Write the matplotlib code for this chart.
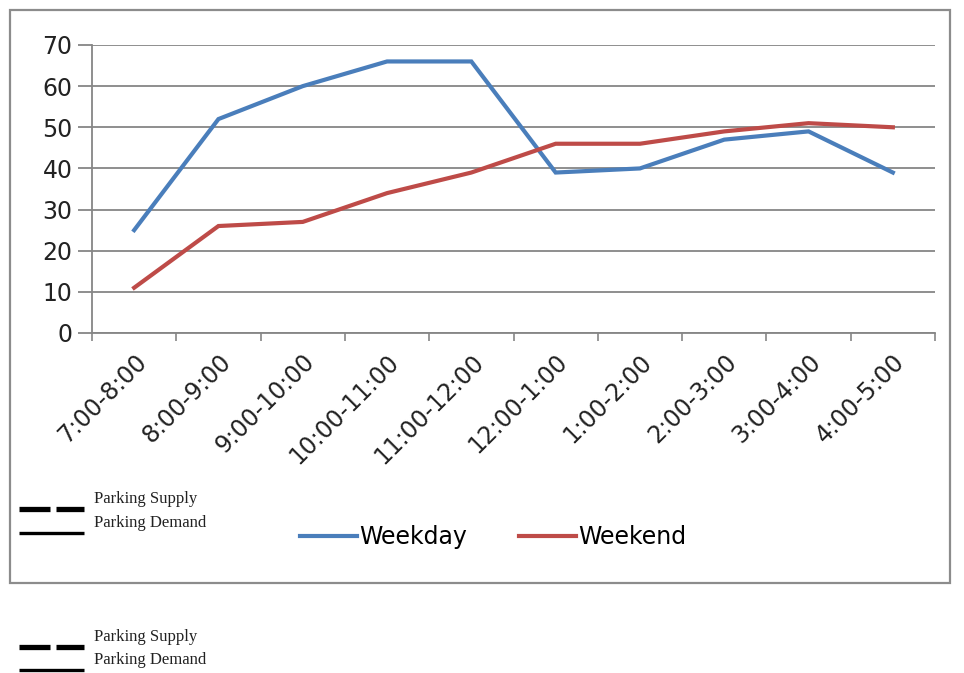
import matplotlib
matplotlib.use("Agg")
import matplotlib.pyplot as plt
from matplotlib.lines import Line2D
from matplotlib.patches import Rectangle
import numpy as np

categories = ["7:00-8:00", "8:00-9:00", "9:00-10:00", "10:00-11:00", "11:00-12:00",
              "12:00-1:00", "1:00-2:00", "2:00-3:00", "3:00-4:00", "4:00-5:00"]
weekday = [25, 52, 60, 66, 66, 39, 40, 47, 49, 39]
weekend = [11, 26, 27, 34, 39, 46, 46, 49, 51, 50]
yticks = [0, 10, 20, 30, 40, 50, 60, 70]

plt.rcParams['font.family'] = ['DejaVu Sans']

W, H = 964, 673
fig = plt.figure(figsize=(W / 100, H / 100), dpi=100)

def fx(px):
    return px / W

def fy(py):
    return 1 - py / H

# outer chart border
fig.patches.append(Rectangle((fx(10), fy(583)), fx(950) - fx(10), fy(10) - fy(583),
                             transform=fig.transFigure, fill=False,
                             edgecolor='#8c8c8c', linewidth=1.6))

ax = fig.add_axes([fx(92), fy(333), fx(935) - fx(92), fy(45) - fy(333)])
x = np.arange(len(categories))
grid_c = '#868686'

ax.plot(x, weekday, color='#4A7EBB', linewidth=3.0, solid_joinstyle='miter')
ax.plot(x, weekend, color='#BE4B48', linewidth=3.0, solid_joinstyle='miter')

ax.set_xlim(-0.5, len(categories) - 0.5)
ax.set_ylim(0, 70)
ax.set_yticks(yticks)
ax.yaxis.grid(True, color=grid_c, linewidth=1.3)
ax.set_axisbelow(True)
for s in ['top', 'right']:
    ax.spines[s].set_visible(False)
for s in ['left', 'bottom']:
    ax.spines[s].set_color(grid_c)
    ax.spines[s].set_linewidth(1.3)

ax.set_xticks(x)
ax.set_xticklabels(categories, rotation=45, ha='right', va='top',
                   rotation_mode='anchor', fontsize=17, color='#222222')
ax.tick_params(axis='x', which='major', length=0, pad=12)
ax.set_xticks(np.arange(-0.5, len(categories), 1.0), minor=True)
ax.tick_params(axis='x', which='minor', length=6, width=1.2, color=grid_c)
ax.tick_params(axis='y', length=10, width=1.3, color=grid_c, labelsize=17,
               labelcolor='#222222', pad=4)

# legend
handles = [Line2D([0], [0], color='#4A7EBB', linewidth=3.0),
           Line2D([0], [0], color='#BE4B48', linewidth=3.0)]
fig.legend(handles, ['Weekday', 'Weekend'], loc='center', ncol=2,
           bbox_to_anchor=(fx(493), fy(537)), frameon=False, fontsize=17,
           handlelength=2.4, handletextpad=0.1, columnspacing=2.2)

# pasted "Parking Supply / Parking Demand" key (twice)
def hline(x0, x1, y, lw):
    fig.add_artist(Line2D([fx(x0), fx(x1)], [fy(y), fy(y)],
                          transform=fig.transFigure, color='black',
                          linewidth=lw, solid_capstyle='butt'))

def parking_key(y_sup, y_dem, y_dash, y_solid):
    hline(19, 50, y_dash, 3.8)
    hline(56, 84, y_dash, 3.8)
    hline(19, 84, y_solid, 2.4)
    fig.text(fx(94), fy(y_sup), 'Parking Supply', fontsize=12,
             family='Liberation Serif', va='center', ha='left', color='#222222')
    fig.text(fx(94), fy(y_dem), 'Parking Demand', fontsize=12,
             family='Liberation Serif', va='center', ha='left', color='#222222')

parking_key(499, 523, 509, 533)
parking_key(637, 660, 647, 670)

fig.savefig('out.png', dpi=100, facecolor='white')
